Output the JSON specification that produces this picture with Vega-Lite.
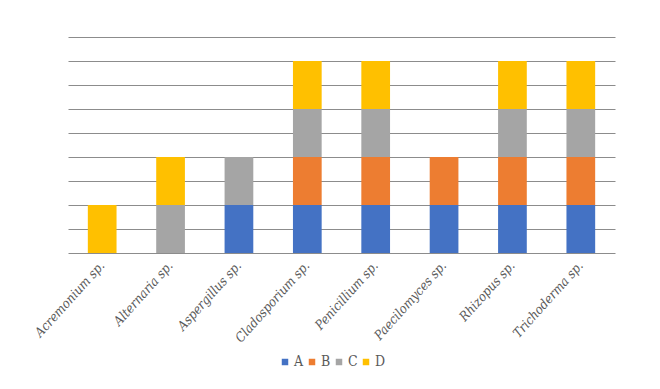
{
  "$schema": "https://vega.github.io/schema/vega-lite/v6.json",
  "width": 547,
  "height": 216,
  "autosize": {"type": "none"},
  "padding": {"left": 68, "top": 37, "right": 45, "bottom": 136},
  "background": "white",
  "config": {
    "view": {"stroke": null},
    "font": "DejaVu Serif"
  },
  "data": {
    "values": [
      {"fungus": "Acremonium sp.", "group": "D", "value": 1},
      {"fungus": "Alternaria sp.", "group": "C", "value": 1},
      {"fungus": "Alternaria sp.", "group": "D", "value": 1},
      {"fungus": "Aspergillus sp.", "group": "A", "value": 1},
      {"fungus": "Aspergillus sp.", "group": "C", "value": 1},
      {"fungus": "Cladosporium sp.", "group": "A", "value": 1},
      {"fungus": "Cladosporium sp.", "group": "B", "value": 1},
      {"fungus": "Cladosporium sp.", "group": "C", "value": 1},
      {"fungus": "Cladosporium sp.", "group": "D", "value": 1},
      {"fungus": "Penicillium sp.", "group": "A", "value": 1},
      {"fungus": "Penicillium sp.", "group": "B", "value": 1},
      {"fungus": "Penicillium sp.", "group": "C", "value": 1},
      {"fungus": "Penicillium sp.", "group": "D", "value": 1},
      {"fungus": "Paecilomyces sp.", "group": "A", "value": 1},
      {"fungus": "Paecilomyces sp.", "group": "B", "value": 1},
      {"fungus": "Rhizopus sp.", "group": "A", "value": 1},
      {"fungus": "Rhizopus sp.", "group": "B", "value": 1},
      {"fungus": "Rhizopus sp.", "group": "C", "value": 1},
      {"fungus": "Rhizopus sp.", "group": "D", "value": 1},
      {"fungus": "Trichoderma sp.", "group": "A", "value": 1},
      {"fungus": "Trichoderma sp.", "group": "B", "value": 1},
      {"fungus": "Trichoderma sp.", "group": "C", "value": 1},
      {"fungus": "Trichoderma sp.", "group": "D", "value": 1}
    ]
  },
  "mark": {"type": "bar", "stroke": null},
  "encoding": {
    "x": {
      "field": "fungus",
      "type": "nominal",
      "sort": null,
      "scale": {"paddingInner": 0.58, "paddingOuter": 0.29},
      "axis": {
        "title": null,
        "labelAngle": -48,
        "labelFont": "DejaVu Serif Condensed, DejaVu Serif",
        "labelFontStyle": "italic",
        "labelFontSize": 13,
        "labelColor": "#595959",
        "labelAlign": "right",
        "labelBaseline": "middle",
        "ticks": false,
        "labelPadding": 10,
        "domainColor": "#8c8c8c",
        "domainWidth": 1
      }
    },
    "y": {
      "field": "value",
      "type": "quantitative",
      "stack": "zero",
      "scale": {"domain": [0, 4.5], "nice": false},
      "axis": {
        "title": null,
        "labels": false,
        "ticks": false,
        "domain": false,
        "values": [0.5, 1, 1.5, 2, 2.5, 3, 3.5, 4, 4.5],
        "gridColor": "#8c8c8c",
        "gridWidth": 1
      }
    },
    "color": {
      "field": "group",
      "type": "nominal",
      "scale": {"domain": ["A", "B", "C", "D"], "range": ["#4472C4", "#ED7D31", "#A5A5A5", "#FFC000"]},
      "legend": {
        "title": null,
        "orient": "none",
        "legendX": 210,
        "legendY": 318,
        "direction": "horizontal",
        "symbolType": "square",
        "symbolSize": 42,
        "symbolStrokeWidth": 0,
        "labelFont": "DejaVu Serif Condensed, DejaVu Serif",
        "labelFontSize": 14,
        "labelColor": "#595959",
        "labelOffset": 2,
        "columnPadding": 1
      }
    },
    "order": {"field": "group", "sort": "ascending"}
  }
}
